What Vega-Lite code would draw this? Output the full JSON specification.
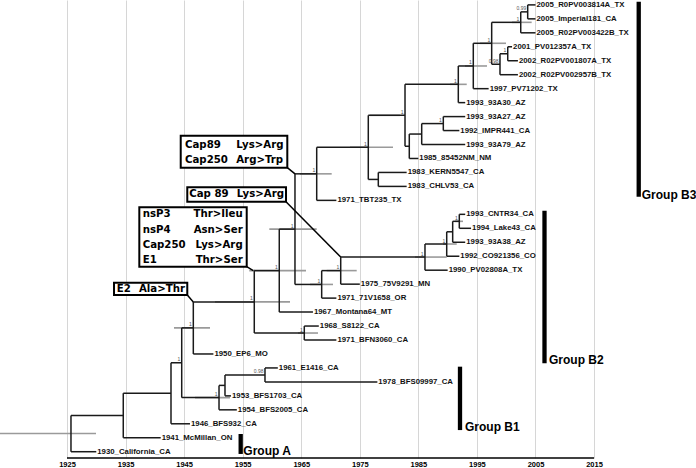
{
  "$schema": "https://vega.github.io/schema/vega-lite/v6.json",
  "width": 696,
  "height": 458,
  "autosize": {"type": "none"},
  "padding": {"left": 0, "top": 0, "right": 0, "bottom": 10},
  "background": "white",
  "config": {"view": {"stroke": null}},
  "datasets": {
    "tips": [
      {"name": "2005_R0PV003814A_TX", "year": 2005, "idx": 0},
      {"name": "2005_Imperial181_CA", "year": 2005, "idx": 1},
      {"name": "2005_R02PV003422B_TX", "year": 2005, "idx": 2},
      {"name": "2001_PV012357A_TX", "year": 2001, "idx": 3},
      {"name": "2002_R02PV001807A_TX", "year": 2002, "idx": 4},
      {"name": "2002_R02PV002957B_TX", "year": 2002, "idx": 5},
      {"name": "1997_PV71202_TX", "year": 1997, "idx": 6},
      {"name": "1993_93A30_AZ", "year": 1993, "idx": 7},
      {"name": "1993_93A27_AZ", "year": 1993, "idx": 8},
      {"name": "1992_IMPR441_CA", "year": 1992, "idx": 9},
      {"name": "1993_93A79_AZ", "year": 1993, "idx": 10},
      {"name": "1985_85452NM_NM", "year": 1985, "idx": 11},
      {"name": "1983_KERN5547_CA", "year": 1983, "idx": 12},
      {"name": "1983_CHLV53_CA", "year": 1983, "idx": 13},
      {"name": "1971_TBT235_TX", "year": 1971, "idx": 14},
      {"name": "1993_CNTR34_CA", "year": 1993, "idx": 15},
      {"name": "1994_Lake43_CA", "year": 1994, "idx": 16},
      {"name": "1993_93A38_AZ", "year": 1993, "idx": 17},
      {"name": "1992_CO921356_CO", "year": 1992, "idx": 18},
      {"name": "1990_PV02808A_TX", "year": 1990, "idx": 19},
      {"name": "1975_75V9291_MN", "year": 1975, "idx": 20},
      {"name": "1971_71V1658_OR", "year": 1971, "idx": 21},
      {"name": "1967_Montana64_MT", "year": 1967, "idx": 22},
      {"name": "1968_S8122_CA", "year": 1968, "idx": 23},
      {"name": "1971_BFN3060_CA", "year": 1971, "idx": 24},
      {"name": "1950_EP6_MO", "year": 1950, "idx": 25},
      {"name": "1961_E1416_CA", "year": 1961, "idx": 26},
      {"name": "1978_BFS09997_CA", "year": 1978, "idx": 27},
      {"name": "1953_BFS1703_CA", "year": 1953, "idx": 28},
      {"name": "1954_BFS2005_CA", "year": 1954, "idx": 29},
      {"name": "1946_BFS932_CA", "year": 1946, "idx": 30},
      {"name": "1941_McMillan_ON", "year": 1941, "idx": 31},
      {"name": "1930_California_CA", "year": 1930, "idx": 32}
    ],
    "segs": [
      {"x": 1925.68, "x2": 1925.68, "y": 29.41, "y2": 32},
      {"x": 1934.61, "x2": 1934.61, "y": 27.81, "y2": 31},
      {"x": 1942.76, "x2": 1942.76, "y": 25.63, "y2": 30},
      {"x": 1944.59, "x2": 1944.59, "y": 23.13, "y2": 28.125},
      {"x": 1946.57, "x2": 1946.57, "y": 21.27, "y2": 25},
      {"x": 1956.98, "x2": 1956.98, "y": 19.03, "y2": 23.5},
      {"x": 1961.25, "x2": 1961.25, "y": 16.06, "y2": 22},
      {"x": 1963.93, "x2": 1963.93, "y": 12.10, "y2": 20.02},
      {"x": 1967.64, "x2": 1967.64, "y": 10.20, "y2": 14},
      {"x": 1976.45, "x2": 1976.45, "y": 7.91, "y2": 12.5},
      {"x": 1982.72, "x2": 1982.72, "y": 5.69, "y2": 10.125},
      {"x": 1991.82, "x2": 1991.82, "y": 4.375, "y2": 7},
      {"x": 1994.38, "x2": 1994.38, "y": 2.75, "y2": 6},
      {"x": 1997.52, "x2": 1997.52, "y": 1.25, "y2": 4.25},
      {"x": 2002.48, "x2": 2002.48, "y": 0.5, "y2": 2},
      {"x": 2003.67, "x2": 2003.67, "y": 0, "y2": 1},
      {"x": 1998.94, "x2": 1998.94, "y": 3.5, "y2": 5},
      {"x": 2000.26, "x2": 2000.26, "y": 3, "y2": 4},
      {"x": 1983.45, "x2": 1983.45, "y": 9.25, "y2": 11},
      {"x": 1985.57, "x2": 1985.57, "y": 8.5, "y2": 10},
      {"x": 1989.26, "x2": 1989.26, "y": 8, "y2": 9},
      {"x": 1978.16, "x2": 1978.16, "y": 12, "y2": 13},
      {"x": 1968.49, "x2": 1968.49, "y": 19.03, "y2": 21},
      {"x": 1971.74, "x2": 1971.74, "y": 18.06, "y2": 20},
      {"x": 1986.13, "x2": 1986.13, "y": 17.125, "y2": 19},
      {"x": 1989.84, "x2": 1989.84, "y": 16.25, "y2": 18},
      {"x": 1990.86, "x2": 1990.86, "y": 15.5, "y2": 17},
      {"x": 1991.99, "x2": 1991.99, "y": 15, "y2": 16},
      {"x": 1965.52, "x2": 1965.52, "y": 23, "y2": 24},
      {"x": 1950.96, "x2": 1950.96, "y": 27.25, "y2": 29},
      {"x": 1951.98, "x2": 1951.98, "y": 26.5, "y2": 28},
      {"x": 1958.81, "x2": 1958.81, "y": 26, "y2": 27},
      {"x": 1925.68, "x2": 1934.61, "y": 29.41, "y2": 29.41},
      {"x": 1925.68, "x2": 1930, "y": 32, "y2": 32},
      {"x": 1934.61, "x2": 1942.76, "y": 27.81, "y2": 27.81},
      {"x": 1934.61, "x2": 1941, "y": 31, "y2": 31},
      {"x": 1942.76, "x2": 1944.59, "y": 25.63, "y2": 25.63},
      {"x": 1942.76, "x2": 1946, "y": 30, "y2": 30},
      {"x": 1944.59, "x2": 1946.57, "y": 23.13, "y2": 23.13},
      {"x": 1944.59, "x2": 1950.96, "y": 28.125, "y2": 28.125},
      {"x": 1946.57, "x2": 1956.98, "y": 21.27, "y2": 21.27},
      {"x": 1946.57, "x2": 1950, "y": 25, "y2": 25},
      {"x": 1956.98, "x2": 1961.25, "y": 19.03, "y2": 19.03},
      {"x": 1956.98, "x2": 1965.52, "y": 23.5, "y2": 23.5},
      {"x": 1961.25, "x2": 1963.93, "y": 16.06, "y2": 16.06},
      {"x": 1961.25, "x2": 1967, "y": 22, "y2": 22},
      {"x": 1963.93, "x2": 1967.64, "y": 12.10, "y2": 12.10},
      {"x": 1963.93, "x2": 1968.49, "y": 20.02, "y2": 20.02},
      {"x": 1967.64, "x2": 1976.45, "y": 10.20, "y2": 10.20},
      {"x": 1967.64, "x2": 1971, "y": 14, "y2": 14},
      {"x": 1976.45, "x2": 1982.72, "y": 7.91, "y2": 7.91},
      {"x": 1976.45, "x2": 1978.16, "y": 12.5, "y2": 12.5},
      {"x": 1982.72, "x2": 1991.82, "y": 5.69, "y2": 5.69},
      {"x": 1982.72, "x2": 1983.45, "y": 10.125, "y2": 10.125},
      {"x": 1991.82, "x2": 1994.38, "y": 4.375, "y2": 4.375},
      {"x": 1991.82, "x2": 1993, "y": 7, "y2": 7},
      {"x": 1994.38, "x2": 1997.52, "y": 2.75, "y2": 2.75},
      {"x": 1994.38, "x2": 1997, "y": 6, "y2": 6},
      {"x": 1997.52, "x2": 2002.48, "y": 1.25, "y2": 1.25},
      {"x": 1997.52, "x2": 1998.94, "y": 4.25, "y2": 4.25},
      {"x": 2002.48, "x2": 2003.67, "y": 0.5, "y2": 0.5},
      {"x": 2002.48, "x2": 2005, "y": 2, "y2": 2},
      {"x": 2003.67, "x2": 2005, "y": 0, "y2": 0},
      {"x": 2003.67, "x2": 2005, "y": 1, "y2": 1},
      {"x": 1998.94, "x2": 2000.26, "y": 3.5, "y2": 3.5},
      {"x": 1998.94, "x2": 2002, "y": 5, "y2": 5},
      {"x": 2000.26, "x2": 2001, "y": 3, "y2": 3},
      {"x": 2000.26, "x2": 2002, "y": 4, "y2": 4},
      {"x": 1983.45, "x2": 1985.57, "y": 9.25, "y2": 9.25},
      {"x": 1983.45, "x2": 1985, "y": 11, "y2": 11},
      {"x": 1985.57, "x2": 1989.26, "y": 8.5, "y2": 8.5},
      {"x": 1985.57, "x2": 1993, "y": 10, "y2": 10},
      {"x": 1989.26, "x2": 1993, "y": 8, "y2": 8},
      {"x": 1989.26, "x2": 1992, "y": 9, "y2": 9},
      {"x": 1978.16, "x2": 1983, "y": 12, "y2": 12},
      {"x": 1978.16, "x2": 1983, "y": 13, "y2": 13},
      {"x": 1968.49, "x2": 1971.74, "y": 19.03, "y2": 19.03},
      {"x": 1968.49, "x2": 1971, "y": 21, "y2": 21},
      {"x": 1971.74, "x2": 1986.13, "y": 18.06, "y2": 18.06},
      {"x": 1971.74, "x2": 1975, "y": 20, "y2": 20},
      {"x": 1986.13, "x2": 1989.84, "y": 17.125, "y2": 17.125},
      {"x": 1986.13, "x2": 1990, "y": 19, "y2": 19},
      {"x": 1989.84, "x2": 1990.86, "y": 16.25, "y2": 16.25},
      {"x": 1989.84, "x2": 1992, "y": 18, "y2": 18},
      {"x": 1990.86, "x2": 1991.99, "y": 15.5, "y2": 15.5},
      {"x": 1990.86, "x2": 1993, "y": 17, "y2": 17},
      {"x": 1991.99, "x2": 1993, "y": 15, "y2": 15},
      {"x": 1991.99, "x2": 1994, "y": 16, "y2": 16},
      {"x": 1965.52, "x2": 1968, "y": 23, "y2": 23},
      {"x": 1965.52, "x2": 1971, "y": 24, "y2": 24},
      {"x": 1950.96, "x2": 1951.98, "y": 27.25, "y2": 27.25},
      {"x": 1950.96, "x2": 1954, "y": 29, "y2": 29},
      {"x": 1951.98, "x2": 1958.81, "y": 26.5, "y2": 26.5},
      {"x": 1951.98, "x2": 1953, "y": 28, "y2": 28},
      {"x": 1958.81, "x2": 1961, "y": 26, "y2": 26},
      {"x": 1958.81, "x2": 1978, "y": 27, "y2": 27}
    ],
    "hpd": [
      {"lo": 1913.56, "hi": 1929.95, "y": 30.70},
      {"lo": 1943.27, "hi": 1949.42, "y": 23.13},
      {"lo": 1946.86, "hi": 1952.83, "y": 28.125},
      {"lo": 1950.27, "hi": 1963.08, "y": 21.27},
      {"lo": 1956.13, "hi": 1965.81, "y": 19.03},
      {"lo": 1959.55, "hi": 1967.64, "y": 16.06},
      {"lo": 1964.79, "hi": 1970.2, "y": 12.10},
      {"lo": 1973.33, "hi": 1980.67, "y": 10.20},
      {"lo": 1976.74, "hi": 1981.86, "y": 7.91},
      {"lo": 1990.4, "hi": 1993.26, "y": 5.69},
      {"lo": 1992.96, "hi": 1996.72, "y": 4.375},
      {"lo": 1995.53, "hi": 1999.97, "y": 2.75},
      {"lo": 2000.99, "hi": 2004.35, "y": 1.25},
      {"lo": 1984.43, "hi": 1989.84, "y": 18.06},
      {"lo": 1989.21, "hi": 1991.55, "y": 17.125},
      {"lo": 1991.26, "hi": 1992.62, "y": 15.5},
      {"lo": 1969.35, "hi": 1974.47, "y": 19.03},
      {"lo": 1966.5, "hi": 1970.42, "y": 20.02},
      {"lo": 1964.45, "hi": 1967.86, "y": 23.5}
    ],
    "post": [
      {"x": 2003.67, "y": 0.5, "p": "0.99"},
      {"x": 2002.48, "y": 1.25, "p": "1"},
      {"x": 1997.52, "y": 2.75, "p": "1"},
      {"x": 1998.94, "y": 4.25, "p": "0.98"},
      {"x": 2000.26, "y": 3.5, "p": "1"},
      {"x": 1994.38, "y": 4.375, "p": "1"},
      {"x": 1991.82, "y": 5.69, "p": "1"},
      {"x": 1982.72, "y": 7.91, "p": "1"},
      {"x": 1989.26, "y": 8.5, "p": "1"},
      {"x": 1976.45, "y": 10.20, "p": "1"},
      {"x": 1967.64, "y": 12.10, "p": "1"},
      {"x": 1963.93, "y": 16.06, "p": "1"},
      {"x": 1961.25, "y": 19.03, "p": "1"},
      {"x": 1968.49, "y": 20.02, "p": "1"},
      {"x": 1971.74, "y": 19.03, "p": "1"},
      {"x": 1986.13, "y": 18.06, "p": "1"},
      {"x": 1989.84, "y": 17.125, "p": "1"},
      {"x": 1991.99, "y": 15.5, "p": "1"},
      {"x": 1956.98, "y": 21.27, "p": "1"},
      {"x": 1965.52, "y": 23.5, "p": "1"},
      {"x": 1946.57, "y": 23.13, "p": "1"},
      {"x": 1944.59, "y": 25.63, "p": "1"},
      {"x": 1950.96, "y": 28.125, "p": "1"},
      {"x": 1958.81, "y": 26.5, "p": "0.98"}
    ],
    "boxes": [
      {"x": 1944.42, "x2": 1962.62, "y": 9.37, "y2": 11.66},
      {"x": 1945.54, "x2": 1962.40, "y": 13.06, "y2": 14.10},
      {"x": 1937.35, "x2": 1955.69, "y": 14.50, "y2": 18.75},
      {"x": 1933.03, "x2": 1945.54, "y": 19.90, "y2": 20.78}
    ],
    "boxL": [
      {"t": "Cap89", "x": 1945.15, "y": 10.01},
      {"t": "Cap250", "x": 1945.15, "y": 11.11},
      {"t": "Lys>Arg", "x": 1953.90, "y": 10.01},
      {"t": "Arg>Trp", "x": 1953.90, "y": 11.11},
      {"t": "Cap 89", "x": 1945.88, "y": 13.565},
      {"t": "Lys>Arg", "x": 1953.98, "y": 13.565},
      {"t": "nsP3", "x": 1937.93, "y": 15.01},
      {"t": "nsP4", "x": 1937.93, "y": 16.11},
      {"t": "Cap250", "x": 1937.93, "y": 17.20},
      {"t": "E1", "x": 1937.93, "y": 18.29},
      {"t": "E2", "x": 1933.49, "y": 20.35}
    ],
    "boxR": [
      {"t": "Thr>Ileu", "x": 1955.0, "y": 15.01},
      {"t": "Asn>Ser", "x": 1955.0, "y": 16.11},
      {"t": "Lys>Arg", "x": 1955.0, "y": 17.20},
      {"t": "Thr>Ser", "x": 1955.0, "y": 18.29},
      {"t": "Ala>Thr", "x": 1945.15, "y": 20.35}
    ],
    "conn": [
      {"x": 1962.62, "x2": 1963.93, "y": 11.66, "y2": 12.10},
      {"x": 1962.40, "x2": 1971.74, "y": 14.10, "y2": 18.06},
      {"x": 1955.69, "x2": 1956.81, "y": 18.75, "y2": 19.03},
      {"x": 1945.54, "x2": 1946.57, "y": 20.78, "y2": 21.27}
    ],
    "groups": [
      {"g": "Group B3", "x": 2022.63, "lx": 2023.14, "y": -0.23, "y2": 13.74, "ly": 13.88},
      {"g": "Group B2", "x": 2006.54, "lx": 2007.31, "y": 14.74, "y2": 25.67, "ly": 25.72},
      {"g": "Group B1", "x": 1992.11, "lx": 1992.96, "y": 25.91, "y2": 30.45, "ly": 30.5},
      {"g": "Group A", "x": 1954.66, "lx": 1955.11, "y": 30.73, "y2": 32.16, "ly": 32.2}
    ],
    "axisline": [{"a": 1925, "b": 2015, "y": 32.45}]
  },
  "layer": [
    {
      "data": {"name": "hpd"},
      "mark": {"type": "rule", "color": "#9a9a9a", "strokeWidth": 1.6},
      "encoding": {
        "x": {
          "field": "lo", "type": "quantitative",
          "scale": {"domain": [1913.56, 2032.41], "nice": false, "zero": false},
          "axis": {
            "title": null,
            "values": [1925, 1930, 1935, 1940, 1945, 1950, 1955, 1960, 1965, 1970, 1975, 1980, 1985, 1990, 1995, 2000, 2005, 2010, 2015],
            "format": "d",
            "labelExpr": "datum.value % 10 == 5 ? datum.label : ''",
            "grid": true,
            "gridColor": "#d6d6d6",
            "gridWidth": 1,
            "domain": false,
            "ticks": false,
            "labelPadding": 2,
            "labelFont": "Liberation Sans",
            "labelFontWeight": "bold",
            "labelFontSize": 7.5,
            "labelColor": "#000000",
            "labelFlush": false,
            "labelOverlap": false
          }
        },
        "x2": {"field": "hi"},
        "y": {
          "field": "y", "type": "quantitative",
          "scale": {"domain": [-0.35, 32.45], "reverse": true, "nice": false, "zero": false},
          "axis": null
        }
      }
    },
    {
      "data": {"name": "segs"},
      "mark": {"type": "rule", "color": "#1a1a1a", "strokeWidth": 1.5},
      "encoding": {
        "x": {"field": "x", "type": "quantitative"},
        "x2": {"field": "x2"},
        "y": {"field": "y", "type": "quantitative", "axis": null},
        "y2": {"field": "y2"}
      }
    },
    {
      "data": {"name": "axisline"},
      "mark": {"type": "rule", "color": "#000000", "strokeWidth": 1.5},
      "encoding": {
        "x": {"field": "a", "type": "quantitative"},
        "x2": {"field": "b"},
        "y": {"field": "y", "type": "quantitative", "axis": null}
      }
    },
    {
      "data": {"name": "post"},
      "mark": {"type": "text", "align": "right", "baseline": "bottom", "dx": -1.5, "dy": -0.5, "fontSize": 5, "font": "Liberation Sans", "color": "#555555"},
      "encoding": {
        "x": {"field": "x", "type": "quantitative"},
        "y": {"field": "y", "type": "quantitative", "axis": null},
        "text": {"field": "p"}
      }
    },
    {
      "data": {"name": "tips"},
      "mark": {"type": "text", "align": "left", "baseline": "middle", "dx": 1, "fontSize": 7.8, "font": "Liberation Sans", "fontWeight": "bold", "color": "#111111"},
      "encoding": {
        "x": {"field": "year", "type": "quantitative"},
        "y": {"field": "idx", "type": "quantitative", "axis": null},
        "text": {"field": "name"}
      }
    },
    {
      "data": {"name": "conn"},
      "mark": {"type": "rule", "color": "#000000", "strokeWidth": 1.5},
      "encoding": {
        "x": {"field": "x", "type": "quantitative"},
        "x2": {"field": "x2"},
        "y": {"field": "y", "type": "quantitative", "axis": null},
        "y2": {"field": "y2"}
      }
    },
    {
      "data": {"name": "boxes"},
      "mark": {"type": "rect", "fill": "#ffffff", "stroke": "#000000", "strokeWidth": 2},
      "encoding": {
        "x": {"field": "x", "type": "quantitative"},
        "x2": {"field": "x2"},
        "y": {"field": "y", "type": "quantitative", "axis": null},
        "y2": {"field": "y2"}
      }
    },
    {
      "data": {"name": "boxL"},
      "mark": {"type": "text", "align": "left", "baseline": "middle", "fontSize": 10.2, "font": "DejaVu Sans", "fontWeight": "bold", "color": "#000000"},
      "encoding": {
        "x": {"field": "x", "type": "quantitative"},
        "y": {"field": "y", "type": "quantitative", "axis": null},
        "text": {"field": "t"}
      }
    },
    {
      "data": {"name": "boxR"},
      "mark": {"type": "text", "align": "right", "baseline": "middle", "fontSize": 10.2, "font": "DejaVu Sans", "fontWeight": "bold", "color": "#000000"},
      "encoding": {
        "x": {"field": "x", "type": "quantitative"},
        "y": {"field": "y", "type": "quantitative", "axis": null},
        "text": {"field": "t"}
      }
    },
    {
      "data": {"name": "groups"},
      "mark": {"type": "rule", "color": "#000000", "strokeWidth": 4.3},
      "encoding": {
        "x": {"field": "x", "type": "quantitative"},
        "y": {"field": "y", "type": "quantitative", "axis": null},
        "y2": {"field": "y2"}
      }
    },
    {
      "data": {"name": "groups"},
      "mark": {"type": "text", "align": "left", "baseline": "alphabetic", "fontSize": 12, "font": "Liberation Sans", "fontWeight": "bold", "color": "#000000"},
      "encoding": {
        "x": {"field": "lx", "type": "quantitative"},
        "y": {"field": "ly", "type": "quantitative", "axis": null},
        "text": {"field": "g"}
      }
    }
  ]
}
